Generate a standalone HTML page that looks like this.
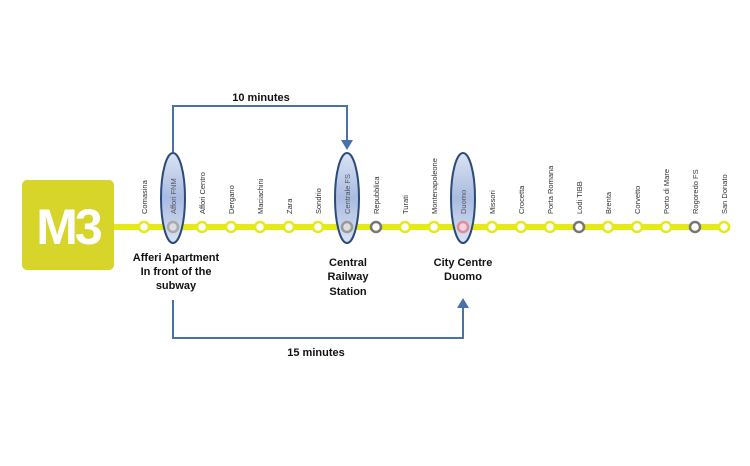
<!DOCTYPE html>
<html><head><style>
body{margin:0;width:750px;height:461px;background:#fff;overflow:hidden}
</style></head><body>
<svg width="750" height="461" viewBox="0 0 750 461" xmlns="http://www.w3.org/2000/svg">
<defs>
<linearGradient id="g" x1="0" y1="0" x2="0" y2="1">
<stop offset="0" stop-color="#dbe3f3"/><stop offset="0.5" stop-color="#a9bbe2"/><stop offset="1" stop-color="#dbe3f3"/>
</linearGradient>
</defs>
<rect x="22" y="180" width="92" height="90" rx="5" fill="#d7d52a"/>
<text x="68" y="244" font-family="Liberation Sans,sans-serif" font-weight="bold" font-size="50" fill="#fff" text-anchor="middle" letter-spacing="-3">M3</text>
<rect x="114" y="224" width="616" height="6" fill="#e4ea18"/>
<g font-family="Liberation Sans,sans-serif" font-size="7.5" fill="#333">
<g id="st"></g>
</g>
<!-- ellipses -->
<ellipse cx="173" cy="198" rx="12" ry="45" fill="url(#g)" stroke="#2b4a7a" stroke-width="2"/>
<ellipse cx="347" cy="198" rx="12" ry="45" fill="url(#g)" stroke="#2b4a7a" stroke-width="2"/>
<ellipse cx="463" cy="198" rx="12" ry="45" fill="url(#g)" stroke="#2b4a7a" stroke-width="2"/>
<g fill="#fff" stroke-width="2.5">
<circle cx="144" cy="227" r="5" stroke="#e4ea18"/>
<circle cx="173" cy="227" r="5" stroke="#aaa" fill="#ddd"/>
<circle cx="202" cy="227" r="5" stroke="#e4ea18"/>
<circle cx="231" cy="227" r="5" stroke="#e4ea18"/>
<circle cx="260" cy="227" r="5" stroke="#e4ea18"/>
<circle cx="289" cy="227" r="5" stroke="#e4ea18"/>
<circle cx="318" cy="227" r="5" stroke="#e4ea18"/>
<circle cx="347" cy="227" r="5" stroke="#999" fill="#ddd"/>
<circle cx="376" cy="227" r="5" stroke="#777"/>
<circle cx="405" cy="227" r="5" stroke="#e4ea18"/>
<circle cx="434" cy="227" r="5" stroke="#e4ea18"/>
<circle cx="463" cy="227" r="5" stroke="#e08a9a" fill="#f2d4dc"/>
<circle cx="492" cy="227" r="5" stroke="#e4ea18"/>
<circle cx="521" cy="227" r="5" stroke="#e4ea18"/>
<circle cx="550" cy="227" r="5" stroke="#e4ea18"/>
<circle cx="579" cy="227" r="5" stroke="#777"/>
<circle cx="608" cy="227" r="5" stroke="#e4ea18"/>
<circle cx="637" cy="227" r="5" stroke="#e4ea18"/>
<circle cx="666" cy="227" r="5" stroke="#e4ea18"/>
<circle cx="695" cy="227" r="5" stroke="#777"/>
<circle cx="724" cy="227" r="5" stroke="#e4ea18"/>
</g>
<g font-family="Liberation Sans,sans-serif" font-size="7.5" fill="#333">
<text transform="translate(147,214) rotate(-90)">Comasina</text>
<text transform="translate(176,214) rotate(-90)" fill="#555">Affori FNM</text>
<text transform="translate(205,214) rotate(-90)">Affori Centro</text>
<text transform="translate(234,214) rotate(-90)">Dergano</text>
<text transform="translate(263,214) rotate(-90)">Maciachini</text>
<text transform="translate(292,214) rotate(-90)">Zara</text>
<text transform="translate(321,214) rotate(-90)">Sondrio</text>
<text transform="translate(350,214) rotate(-90)" fill="#555">Centrale FS</text>
<text transform="translate(379,214) rotate(-90)">Repubblica</text>
<text transform="translate(408,214) rotate(-90)">Turati</text>
<text transform="translate(437,214) rotate(-90)">Montenapoleone</text>
<text transform="translate(466,214) rotate(-90)" fill="#555">Duomo</text>
<text transform="translate(495,214) rotate(-90)">Missori</text>
<text transform="translate(524,214) rotate(-90)">Crocetta</text>
<text transform="translate(553,214) rotate(-90)">Porta Romana</text>
<text transform="translate(582,214) rotate(-90)">Lodi TIBB</text>
<text transform="translate(611,214) rotate(-90)">Brenta</text>
<text transform="translate(640,214) rotate(-90)">Corvetto</text>
<text transform="translate(669,214) rotate(-90)">Porto di Mare</text>
<text transform="translate(698,214) rotate(-90)">Rogoredo FS</text>
<text transform="translate(727,214) rotate(-90)">San Donato</text>
</g>
<!-- arrows -->
<g fill="none" stroke="#4a72a8" stroke-width="2">
<polyline points="173,152 173,106 347,106 347,142"/>
<polyline points="173,300 173,338 463,338 463,306"/>
</g>
<polygon points="341,140 353,140 347,150" fill="#4a72a8"/>
<polygon points="457,308 469,308 463,298" fill="#4a72a8"/>
<g font-family="Liberation Sans,sans-serif" font-weight="bold" font-size="11" fill="#111" text-anchor="middle">
<text x="261" y="101">10 minutes</text>
<text x="316" y="356">15 minutes</text>
<text x="176" y="261">Afferi Apartment</text>
<text x="176" y="275">In front of the</text>
<text x="176" y="289">subway</text>
<text x="348" y="266">Central</text>
<text x="348" y="280">Railway</text>
<text x="348" y="295">Station</text>
<text x="463" y="266">City Centre</text>
<text x="463" y="280">Duomo</text>
</g>
</svg>
</body></html>
